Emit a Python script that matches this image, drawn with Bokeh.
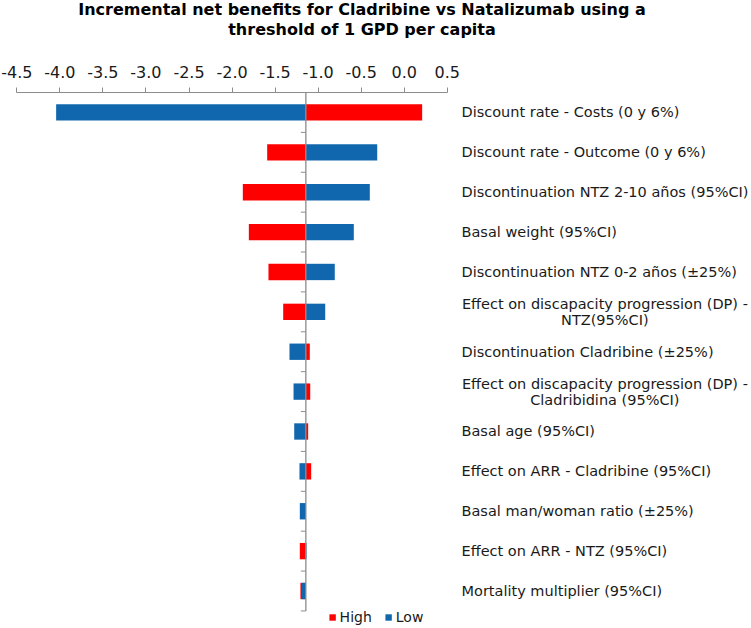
from bokeh.plotting import figure
from bokeh.layouts import column
from bokeh.models import (Range1d, LinearAxis, FixedTicker, Legend, Div,
                          LegendItem, ColumnDataSource)
from bokeh.core.properties import value
from bokeh.embed import file_html
from bokeh.resources import INLINE

# ---------------- data ----------------
title_lines = ["Incremental net benefits for Cladribine vs Natalizumab using a",
               "threshold of 1 GPD per capita"]
categories = [
    "Discount rate - Costs  (0 y 6%)",
    "Discount rate - Outcome (0 y 6%)",
    "Discontinuation NTZ 2-10 años (95%CI)",
    "Basal weight (95%CI)",
    "Discontinuation NTZ 0-2 años (±25%)",
    "Effect on discapacity progression (DP) -\nNTZ(95%CI)",
    "Discontinuation Cladribine (±25%)",
    "Effect on discapacity progression (DP) -\nCladribidina (95%CI)",
    "Basal age (95%CI)",
    "Effect on ARR - Cladribine (95%CI)",
    "Basal man/woman ratio (±25%)",
    "Effect on ARR - NTZ (95%CI)",
    "Mortality multiplier (95%CI)",
]
high_values = [0.208, -1.592, -1.875, -1.805, -1.577, -1.406, -1.097,
               -1.092, -1.116, -1.081, -1.150, -1.213, -1.206]
low_values = [-4.043, -0.314, -0.400, -0.586, -0.807, -0.918, -1.333,
              -1.286, -1.278, -1.217, -1.213, -1.135, -1.190]
base_value = -1.143
x_ticks = [-4.5, -4.0, -3.5, -3.0, -2.5, -2.0, -1.5, -1.0, -0.5, 0.0, 0.5]
tick_labels = ["-4.5", "-4.0", "-3.5", "-3.0", "-2.5", "-2.0", "-1.5",
               "-1.0", "-0.5", "0.0", "0.5"]
series_names = ["High", "Low"]

# ---------------- styling ----------------
RED = "#FF0000"
BLUE = "#1067AE"
AXIS_GRAY = "#8C8C8C"
FONT = "DejaVu Sans"

W = 751
TITLE_H = 44
H = 628 - TITLE_H
n = len(categories)
rows = list(range(1, n + 1))

title_div = Div(
    text="<br>".join(title_lines), width=W, height=TITLE_H,
    styles={"font-family": FONT, "font-weight": "bold", "font-size": "16px",
            "line-height": "20px", "text-align": "center", "color": "black",
            "width": "724px", "margin": "0", "padding": "0"})

p = figure(width=W, height=H, output_backend="svg", toolbar_location=None,
           x_range=Range1d(-4.6893, 4.033), y_range=Range1d(n + 0.94, 0.5),
           x_axis_location=None, y_axis_location=None, title=None,
           min_border_left=0, min_border_right=0, min_border_top=48,
           min_border_bottom=0)
p.outline_line_color = None
p.xgrid.visible = False
p.ygrid.visible = False
p.background_fill_color = "white"
p.border_fill_color = "white"

# top axis
xa = LinearAxis(ticker=FixedTicker(ticks=x_ticks),
                major_label_overrides={t: l for t, l in zip(x_ticks, tick_labels)},
                bounds=(x_ticks[0], x_ticks[-1]))
xa.axis_line_color = AXIS_GRAY
xa.major_tick_line_color = AXIS_GRAY
xa.minor_tick_line_color = None
xa.major_tick_in = 0
xa.major_tick_out = 5
xa.major_label_standoff = 10
xa.major_label_text_font = FONT
xa.major_label_text_font_size = "16px"
xa.major_label_text_color = "#1a1a1a"
p.add_layout(xa, "above")

src = ColumnDataSource(data=dict(y=rows, high=high_values, low=low_values,
                                 base=[base_value] * n))
r_high = p.hbar(y="y", left="base", right="high", height=0.41, source=src,
                fill_color=RED, line_color=None)
r_low = p.hbar(y="y", left="base", right="low", height=0.41, source=src,
               fill_color=BLUE, line_color=None)

# vertical base axis with category separators
bounds = [r - 0.5 for r in rows] + [n + 0.5]
p.segment(x0=[base_value], y0=[0.5], x1=[base_value], y1=[n + 0.5],
          line_color=AXIS_GRAY, line_width=1.3)
tick_len = 5 / 86.1
p.segment(x0=[base_value - tick_len] * len(bounds), y0=bounds,
          x1=[base_value] * len(bounds), y1=bounds,
          line_color=AXIS_GRAY, line_width=1)

# category labels
label_left_x = 0.665
label_center_x = 2.33
single = [(r, c) for r, c in zip(rows, categories) if "\n" not in c]
multi = [(r, c) for r, c in zip(rows, categories) if "\n" in c]
p.text(x=[label_left_x] * len(single), y=[r for r, _ in single],
       text=[c for _, c in single], text_align="left", text_baseline="middle",
       text_font=value(FONT), text_font_size="14.5px", text_color="#1a1a1a")
p.text(x=[label_center_x] * len(multi), y=[r for r, _ in multi],
       text=[c for _, c in multi], text_align="center", text_baseline="middle",
       text_font=value(FONT), text_font_size="14.5px", text_color="#1a1a1a",
       text_line_height=1.0)

legend = Legend(items=[LegendItem(label=series_names[0], renderers=[r_high]),
                       LegendItem(label=series_names[1], renderers=[r_low])],
                orientation="horizontal", location="bottom_center",
                label_text_font=FONT, label_text_font_size="14px",
                label_text_color="#1a1a1a", glyph_width=8, glyph_height=8,
                label_standoff=4, spacing=12, padding=0, margin=3,
                label_height=14, border_line_color=None,
                background_fill_alpha=0)
p.add_layout(legend)

layout = column(title_div, p, spacing=0)
open("out.html", "w").write(file_html(layout, INLINE))
